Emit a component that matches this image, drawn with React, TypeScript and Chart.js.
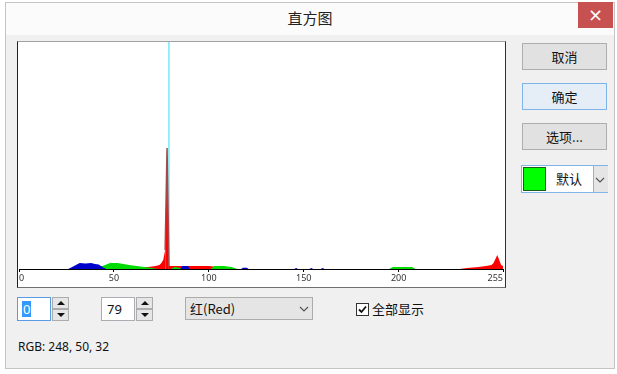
import React, { useEffect, useRef } from "react";
import { Chart, registerables } from "chart.js";

Chart.register(...registerables);

// ---- data (histogram counts per channel, sparse bins) ----
const tickValues = [0, 50, 100, 150, 200, 255];
const levelMin = 0;
const levelMax = 255;
const countMax = 1000;
const cursorLevel = 79;

const redBins = [0, 26, 28, 35, 45, 55, 62, 68, 72, 74, 75, 76, 77, 78, 79, 82, 90, 100, 105, 110, 114, 232, 236, 242, 246, 249, 250, 251, 252, 253, 254, 255];
const redCounts = [0, 0, 4, 9, 13, 9, 9, 9, 13, 18, 26, 40, 84, 533, 13, 13, 13, 13, 9, 4, 0, 0, 4, 9, 13, 18, 26, 44, 62, 40, 18, 13];

const greenBins = [0, 35, 40, 44, 48, 52, 55, 58, 62, 66, 70, 73, 80, 82, 85, 87, 101, 103, 108, 112, 115, 195, 197, 207, 209, 255];
const greenCounts = [0, 0, 4, 13, 26, 26, 22, 18, 13, 9, 4, 0, 0, 9, 4, 0, 0, 13, 13, 9, 0, 0, 9, 9, 0, 0];

const blueBins = [0, 26, 28, 30, 32, 35, 38, 40, 42, 44, 46, 85, 86, 89, 90, 117, 118, 120, 121, 145, 146, 147, 153, 154, 155, 159, 160, 161, 255];
const blueCounts = [0, 0, 9, 18, 26, 24, 26, 22, 20, 9, 0, 0, 13, 13, 0, 0, 5, 5, 0, 0, 4, 0, 0, 4, 0, 0, 4, 0, 0];

const toPoints = (bins: number[], counts: number[]) =>
  bins.map((b, i) => ({ x: b, y: counts[i] }));

const uiFont = "'Segoe UI', 'Noto Sans', 'Noto Sans CJK SC', sans-serif";
const cjkFont = "'Noto Sans CJK SC', 'Noto Sans', sans-serif";

function Chevron({ x, y }: { x: number; y: number }) {
  return (
    <svg style={{ position: "absolute", left: x, top: y }} width={10} height={6}>
      <polyline points="1,1 5,5 9,1" fill="none" stroke="#555" strokeWidth={1.2} />
    </svg>
  );
}

function SpinBox({ left, value, focused }: { left: number; value: string; focused?: boolean }) {
  return (
    <>
      <div
        style={{
          position: "absolute",
          left,
          top: 297,
          width: 34,
          height: 24,
          background: "#fff",
          border: `1px solid ${focused ? "#569de5" : "#abadb3"}`,
          boxSizing: "border-box",
        }}
      >
        <span
          style={{
            position: "absolute",
            left: 4,
            top: 3,
            fontSize: 13,
            lineHeight: "16px",
            fontFamily: uiFont,
            color: focused ? "#fff" : "#111",
            background: focused ? "#3399ff" : "transparent",
            padding: "0 1px",
          }}
        >
          {value}
        </span>
      </div>
      {[0, 1].map((k) => (
        <div
          key={k}
          style={{
            position: "absolute",
            left: left + 35,
            top: 297 + k * 12,
            width: 17,
            height: 12,
            background: "#e6e6e6",
            border: "1px solid #acacac",
            boxSizing: "border-box",
          }}
        >
          <svg style={{ position: "absolute", left: 4, top: 3 }} width={8} height={5}>
            <polygon points={k === 0 ? "0,4 4,0 8,4" : "0,0 8,0 4,4"} fill="#111" />
          </svg>
        </div>
      ))}
    </>
  );
}

function Button({ top, label, primary }: { top: number; label: string; primary?: boolean }) {
  return (
    <div
      style={{
        position: "absolute",
        left: 522,
        top,
        width: 85,
        height: 27,
        boxSizing: "border-box",
        background: primary ? "#e5eef7" : "#e1e1e1",
        border: `1px solid ${primary ? "#7eb4ea" : "#adadad"}`,
        fontFamily: cjkFont,
        fontSize: 13,
        color: "#111",
        display: "flex",
        alignItems: "center",
        justifyContent: "center",
      }}
    >
      {label}
    </div>
  );
}

export default function App() {
  const canvasRef = useRef<HTMLCanvasElement | null>(null);

  useEffect(() => {
    document.body.style.margin = "0";
    const canvas = canvasRef.current;
    if (!canvas) return;
    const chart = new Chart(canvas, {
      type: "line",
      data: {
        datasets: [
          {
            label: "Red",
            data: toPoints(redBins, redCounts),
            backgroundColor: "#ff0000",
            borderColor: "rgba(0,0,0,0)",
            borderWidth: 1.5,
            segment: {
              borderColor: (ctx: any) =>
                ctx.p0.parsed.y > 200 || ctx.p1.parsed.y > 200 ? "#a24a4a" : "rgba(0,0,0,0)",
            },
            pointRadius: 0,
            fill: "origin",
            tension: 0,
            order: 3,
          },
          {
            label: "Green",
            data: toPoints(greenBins, greenCounts),
            backgroundColor: "#00dc00",
            borderColor: "#00dc00",
            borderWidth: 0,
            pointRadius: 0,
            fill: "origin",
            tension: 0,
            order: 2,
          },
          {
            label: "Blue",
            data: toPoints(blueBins, blueCounts),
            backgroundColor: "#0000cc",
            borderColor: "#0000cc",
            borderWidth: 0,
            pointRadius: 0,
            fill: "origin",
            tension: 0,
            order: 1,
          },
          {
            label: "Cursor",
            data: [
              { x: cursorLevel, y: 0 },
              { x: cursorLevel, y: countMax },
            ],
            borderColor: "#30e0f0",
            borderWidth: 1,
            pointRadius: 0,
            fill: false,
            order: 4,
          },
        ],
      },
      options: {
        animation: false,
        responsive: false,
        maintainAspectRatio: false,
        layout: { padding: 0 },
        plugins: { legend: { display: false }, tooltip: { enabled: false } },
        scales: {
          x: {
            type: "linear",
            min: levelMin,
            max: levelMax,
            afterBuildTicks: (s: any) => {
              s.ticks = tickValues.map((v) => ({ value: v }));
            },
            afterFit: (s: any) => {
              s.height = 18;
            },
            grid: { drawOnChartArea: false, drawTicks: true, tickLength: 3, color: "#000" },
            border: { display: true, color: "#000", width: 1 },
            ticks: {
              align: "inner",
              autoSkip: false,
              maxRotation: 0,
              padding: 1,
              color: "#333",
              font: { size: 9, family: uiFont },
            },
          },
          y: { display: false, min: 0, max: countMax },
        },
      },
    } as any);
    return () => chart.destroy();
  }, []);

  return (
    <div
      style={{
        position: "fixed",
        left: 0,
        top: 0,
        width: 617,
        height: 374,
        background: "#fff",
        overflow: "hidden",
        fontFamily: uiFont,
      }}
    >
      {/* window frame */}
      <div
        style={{
          position: "absolute",
          left: 5,
          top: 2,
          width: 610,
          height: 367,
          boxSizing: "border-box",
          border: "1px solid #c4c4c4",
          background: "#f0f0f0",
        }}
      />
      {/* title bar */}
      <div
        style={{
          position: "absolute",
          left: 6,
          top: 3,
          width: 608,
          height: 32,
          background: "#fbfbfb",
        }}
      />
      <div
        style={{
          position: "absolute",
          left: 260,
          top: 7,
          width: 100,
          textAlign: "center",
          fontFamily: cjkFont,
          fontSize: 15,
          lineHeight: "22px",
          color: "#222",
        }}
      >
        直方图
      </div>
      <div
        style={{
          position: "absolute",
          left: 578,
          top: 2,
          width: 35,
          height: 26,
          background: "#c75050",
          color: "#fff",
          fontSize: 18,
          fontFamily: "'DejaVu Sans', sans-serif",
          lineHeight: "26px",
          textAlign: "center",
        }}
      >
        ×
      </div>

      {/* histogram box */}
      <div
        style={{
          position: "absolute",
          left: 17,
          top: 41,
          width: 489,
          height: 247,
          boxSizing: "border-box",
          background: "#fff",
          borderTop: "1px solid #a0a0a0",
          borderLeft: "1px solid #202020",
          borderRight: "1px solid #303030",
          borderBottom: "1px solid #707070",
        }}
      >
        <canvas ref={canvasRef} width={486} height={245} style={{ display: "block", width: 486, height: 245 }} />
      </div>

      {/* right-side buttons */}
      <Button top={43} label="取消" />
      <Button top={83} label="确定" primary />
      <Button top={123} label="选项..." />

      {/* colour combo */}
      <div
        style={{
          position: "absolute",
          left: 521,
          top: 165,
          width: 87,
          height: 28,
          boxSizing: "border-box",
          background: "#fff",
          border: "1px solid #7eb4ea",
        }}
      >
        <div
          style={{
            position: "absolute",
            left: 1,
            top: 1,
            width: 23,
            height: 24,
            boxSizing: "border-box",
            background: "#00ff00",
            border: "1px solid #1a5a1a",
          }}
        />
        <div
          style={{
            position: "absolute",
            left: 34,
            top: 3,
            fontFamily: cjkFont,
            fontSize: 13,
            lineHeight: "20px",
            color: "#111",
          }}
        >
          默认
        </div>
        <div
          style={{
            position: "absolute",
            left: 71,
            top: 0,
            width: 14,
            height: 26,
            background: "#e5e5e5",
            borderLeft: "1px solid #acacac",
          }}
        />
        <Chevron x={73} y={11} />
      </div>

      {/* bottom controls */}
      <SpinBox left={17} value="0" focused />
      <SpinBox left={101} value="79" />

      <div
        style={{
          position: "absolute",
          left: 185,
          top: 297,
          width: 128,
          height: 23,
          boxSizing: "border-box",
          background: "#e5e5e5",
          border: "1px solid #acacac",
        }}
      >
        <span
          style={{
            position: "absolute",
            left: 4,
            top: 1,
            fontFamily: cjkFont,
            fontSize: 13,
            lineHeight: "19px",
            color: "#111",
          }}
        >
          红(Red)
        </span>
        <Chevron x={113} y={8} />
      </div>

      <div
        style={{
          position: "absolute",
          left: 356,
          top: 303,
          width: 13,
          height: 13,
          boxSizing: "border-box",
          background: "#fff",
          border: "1px solid #333",
        }}
      >
        <svg style={{ position: "absolute", left: 1, top: 1 }} width={9} height={9}>
          <polyline points="1,4.5 3.5,7 8,1.5" fill="none" stroke="#111" strokeWidth={1.8} />
        </svg>
      </div>
      <div
        style={{
          position: "absolute",
          left: 372,
          top: 299,
          fontFamily: cjkFont,
          fontSize: 13,
          lineHeight: "20px",
          color: "#111",
        }}
      >
        全部显示
      </div>

      <div
        style={{
          position: "absolute",
          left: 18,
          top: 338,
          fontFamily: uiFont,
          fontSize: 12,
          lineHeight: "18px",
          color: "#111",
        }}
      >
        RGB: 248, 50, 32
      </div>
    </div>
  );
}
